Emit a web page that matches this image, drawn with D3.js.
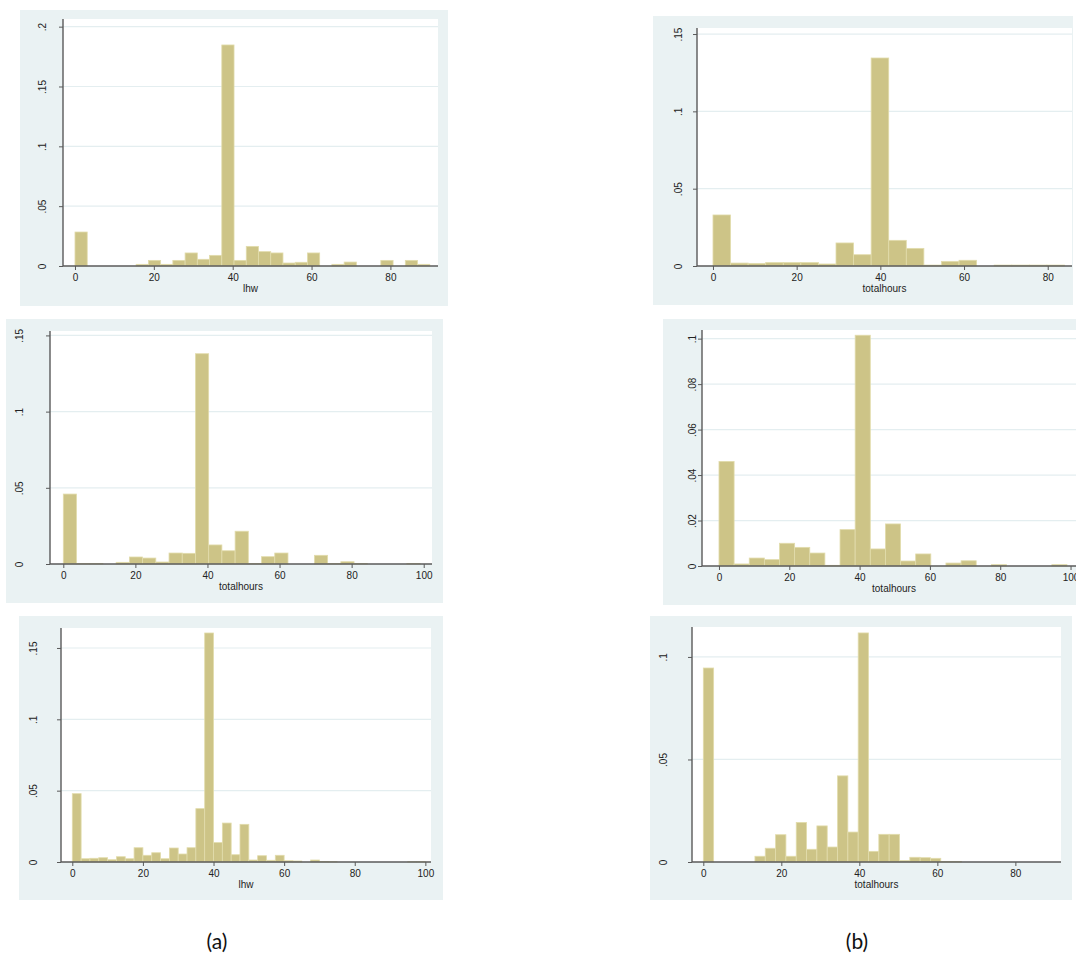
<!DOCTYPE html>
<html>
<head>
<meta charset="utf-8">
<script src="https://cdn.jsdelivr.net/npm/d3@7"></script>
<style>
  body { margin: 0; background: #fff; }
  svg { display: block; }
  .axis text { font-family: "Liberation Sans", Arial, sans-serif; font-size: 10px; fill: #222; }
  .axis path, .axis line { stroke: #5a5a5a; }
</style>
</head>
<body>
<svg id="chart" width="1076" height="957"></svg>
<script>
// density heights per bin (bins start at 0)
const lhwTopLeft = [0.0284, 0, 0, 0, 0, 0.0014, 0.0047, 0.0014, 0.0047, 0.0109, 0.0056, 0.0089, 0.1847, 0.0047,
  0.0164, 0.012, 0.0109, 0.0025, 0.0031, 0.0109, 0, 0.0014, 0.0033, 0, 0, 0.0047, 0, 0.0047, 0.0014];
const totalHoursTopRight = [0.033, 0.0019, 0.0017, 0.0022, 0.0022, 0.0022, 0.0013, 0.0149, 0.0073, 0.1345,
  0.0166, 0.0114, 0.0006, 0.003, 0.0037, 0, 0.0006, 0.0006, 0.0006, 0.0006];
const totalHoursMidLeft = [0.0459, 0.0004, 0.0004, 0, 0.0011, 0.0046, 0.0039, 0.0013, 0.0072, 0.007, 0.138,
  0.0125, 0.0087, 0.0215, 0.0003, 0.0048, 0.0072, 0, 0, 0.0057, 0.0003, 0.0015, 0.0004, 0, 0, 0, 0.0004];
const totalHoursMidRight = [0.046, 0.0009, 0.0035, 0.0028, 0.01, 0.0082, 0.0057, 0.0003, 0.016, 0.1015, 0.0075,
  0.0185, 0.0022, 0.0053, 0, 0.0013, 0.0023, 0, 0.0006, 0, 0, 0, 0.0006];
const lhwBottomLeft = [0.0479, 0.0023, 0.0026, 0.003, 0.0016, 0.0037, 0.0023, 0.01, 0.0047, 0.0065, 0.0023,
  0.0098, 0.0056, 0.01, 0.0374, 0.1605, 0.0136, 0.0273, 0.0051, 0.0264, 0.0014, 0.0044, 0.0012, 0.0047,
  0.0009, 0.0007, 0, 0.0014, 0.0003, 0.0002, 0, 0, 0, 0, 0, 0, 0, 0, 0.0002, 0.0002];
const totalHoursBottomRight = [0.0946, 0, 0, 0, 0, 0.0028, 0.0067, 0.0133, 0.0028, 0.0193, 0.0062, 0.0176,
  0.0073, 0.042, 0.0146, 0.1117, 0.0052, 0.0135, 0.0135, 0.0007, 0.0023, 0.0021, 0.0018, 0.0003, 0.0003,
  0, 0, 0, 0, 0, 0, 0, 0, 0];

const binWidths = [3.103, 4.2, 3.667, 4.304, 2.5, 2.647];
const xTitles = ['lhw', 'totalhours', 'totalhours', 'totalhours', 'lhw', 'totalhours'];
const xTickValues = [[0, 20, 40, 60, 80], [0, 20, 40, 60, 80], [0, 20, 40, 60, 80, 100],
  [0, 20, 40, 60, 80, 100], [0, 20, 40, 60, 80, 100], [0, 20, 40, 60, 80]];
const yTickValues = [[0, 0.05, 0.1, 0.15, 0.2], [0, 0.05, 0.1, 0.15], [0, 0.05, 0.1, 0.15],
  [0, 0.02, 0.04, 0.06, 0.08, 0.1], [0, 0.05, 0.1, 0.15], [0, 0.05, 0.1]];
const panelLabels = ['(a)', '(b)'];

// layout per panel: background box, plot box, scale domains, y label gap
const panels = [
  { data: lhwTopLeft, bg: [20, 10, 448, 306], plot: [63, 19, 438, 266], xDom: [-3.04, 92.07], yMax: 0.2064, yGap: 21 },
  { data: totalHoursTopRight, bg: [653, 16, 1073, 305], plot: [697, 28, 1072, 266], xDom: [-3.82, 85.8], yMax: 0.1539, yGap: 19 },
  { data: totalHoursMidLeft, bg: [6, 319, 443, 603], plot: [50, 331, 432, 564], xDom: [-3.69, 102.3], yMax: 0.1529, yGap: 31 },
  { data: totalHoursMidRight, bg: [663, 319, 1090, 605], plot: [702, 330, 1086, 566], xDom: [-4.83, 104.4], yMax: 0.1038, yGap: 10 },
  { data: lhwBottomLeft, bg: [19, 616, 443, 900], plot: [61, 628, 431, 862], xDom: [-3.2, 101.6], yMax: 0.164, yGap: 28 },
  { data: totalHoursBottomRight, bg: [650, 616, 1072, 900], plot: [692, 627, 1061, 862], xDom: [-2.9, 91.7], yMax: 0.1146, yGap: 29 }
];

const svg = d3.select('#chart');
svg.append('rect').attr('width', 1076).attr('height', 957).attr('fill', '#fff');

const fmtY = d => d === 0 ? '0' : d3.format('')(d).replace(/^0/, '');

function drawPanel(p, i) {
  const [l, t, r, b] = p.plot;
  const g = svg.append('g').attr('class', 'panel');

  g.append('rect')
    .attr('x', p.bg[0]).attr('y', p.bg[1])
    .attr('width', p.bg[2] - p.bg[0]).attr('height', p.bg[3] - p.bg[1])
    .attr('fill', '#eaf2f3');
  g.append('rect')
    .attr('x', l).attr('y', t)
    .attr('width', r - l).attr('height', b - t)
    .attr('fill', '#fff');

  const x = d3.scaleLinear().domain(p.xDom).range([l, r]);
  const y = d3.scaleLinear().domain([0, p.yMax]).range([b, t]);

  // grid lines
  g.append('g')
    .selectAll('line')
    .data(yTickValues[i].filter(v => v > 0))
    .enter()
    .append('line')
    .attr('x1', l).attr('x2', r)
    .attr('y1', d => y(d)).attr('y2', d => y(d))
    .attr('stroke', '#e4eef0')
    .attr('stroke-width', 1.2);

  const bins = p.data.map((h, k) => ({ x0: k * binWidths[i], x1: (k + 1) * binWidths[i], h }))
    .filter(d => d.h > 0);

  g.append('g')
    .selectAll('rect')
    .data(bins)
    .enter()
    .append('rect')
    .attr('x', d => x(d.x0))
    .attr('y', d => y(d.h))
    .attr('width', d => x(d.x1) - x(d.x0))
    .attr('height', d => y(0) - y(d.h))
    .attr('fill', '#cdc487')
    .attr('stroke', '#e2dcac')
    .attr('stroke-width', 0.8);

  const xAxis = g.append('g')
    .attr('class', 'axis')
    .attr('transform', `translate(0,${b})`)
    .call(d3.axisBottom(x).tickValues(xTickValues[i]).tickSize(4).tickSizeOuter(0).tickFormat(d3.format('d')));
  xAxis.select('.domain').attr('stroke-width', 1.4).attr('d', `M${l},0H${r}`);
  xAxis.selectAll('text').attr('y', 8);

  const yAxis = g.append('g')
    .attr('class', 'axis')
    .attr('transform', `translate(${l},0)`)
    .call(d3.axisLeft(y).tickValues(yTickValues[i]).tickSize(4).tickSizeOuter(0).tickFormat(fmtY));
  yAxis.select('.domain').attr('stroke-width', 1.4).attr('d', `M0,${b}V${t}`);
  yAxis.selectAll('text')
    .attr('transform', 'rotate(-90)')
    .attr('x', 0)
    .attr('y', -p.yGap)
    .attr('dy', '0.35em')
    .attr('text-anchor', 'middle');

  g.append('text')
    .attr('x', (l + r) / 2)
    .attr('y', b + 26)
    .attr('text-anchor', 'middle')
    .style('font-family', '"Liberation Sans", Arial, sans-serif')
    .style('font-size', '10px')
    .attr('fill', '#222')
    .text(xTitles[i]);
}

panels.forEach(drawPanel);

svg.selectAll('text.panel-label')
  .data(panelLabels)
  .enter()
  .append('text')
  .attr('class', 'panel-label')
  .attr('x', (d, k) => k === 0 ? 217 : 857)
  .attr('y', 949)
  .attr('text-anchor', 'middle')
  .style('font-family', 'Lato, "Open Sans", sans-serif')
  .style('font-size', '21px')
  .attr('fill', '#111')
  .text(d => d);
</script>
</body>
</html>
